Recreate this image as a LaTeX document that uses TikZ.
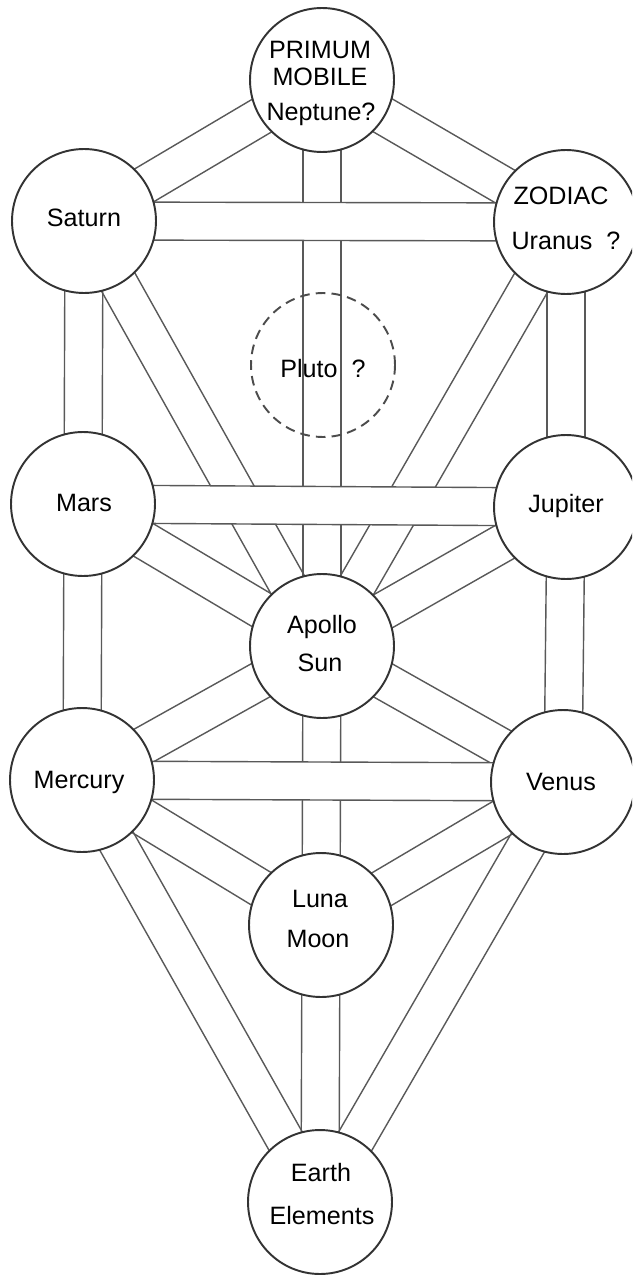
\documentclass[tikz,border=0pt]{standalone}
\usepackage{fontspec}
\setmainfont{Liberation Sans}
\usetikzlibrary{calc}
\pgfdeclarelayer{chanlayer}
\pgfdeclarelayer{barlayer}
\pgfsetlayers{chanlayer,barlayer,main}
\newcommand\hw{0.38cm}
\newcommand\chan[2]{%
  \draw[chanline] ($(#1.center)!\hw!90:(#2.center)$) -- ($(#2.center)!\hw!-90:(#1.center)$)
                  ($(#1.center)!\hw!-90:(#2.center)$) -- ($(#2.center)!\hw!90:(#1.center)$);}
\newcommand\barchan[2]{%
  \fill[white] ($(#1.center)!\hw!90:(#2.center)$) -- ($(#2.center)!\hw!-90:(#1.center)$)
     -- ($(#2.center)!\hw!90:(#1.center)$) -- ($(#1.center)!\hw!-90:(#2.center)$) -- cycle;
  \chan{#1}{#2}}
\tikzset{
  sph/.style={circle, draw=black!80, line width=1.1pt, fill=white, minimum size=2.88cm, inner sep=0pt},
  dsph/.style={circle, draw=black!70, line width=1.1pt, dash pattern=on 5.5pt off 3.5pt, minimum size=2.88cm, inner sep=0pt},
  chanline/.style={draw=black!65, line width=0.8pt},
  lbl/.style={anchor=base, inner sep=0pt, text=black, font=\fontsize{14.3}{17}\selectfont}
}
\begin{document}
\begin{tikzpicture}[x=0.02cm, y=-0.02cm]
\useasboundingbox (0,0) rectangle (632,1277);
\clip (0,0) rectangle (632,1277);
% spheres
\node[sph]  (pri) at (322,80)  {};
\node[sph]  (sat) at (84,221)  {};
\node[sph]  (zod) at (566,222) {};
\node[dsph] (plu) at (323,365) {};
\node[sph]  (mar) at (83,504)  {};
\node[sph]  (jup) at (566,507) {};
\node[sph]  (sun) at (322,646) {};
\node[sph]  (mer) at (82,780)  {};
\node[sph]  (ven) at (563,782) {};
\node[sph]  (lun) at (321,925) {};
\node[sph]  (ear) at (320,1202) {};
% labels
\node[lbl] (t1) at (320,59)  {PRIMUM};
\node[lbl] (t2) at (320,86)  {MOBILE};
\node[lbl] (t3) at (321,121) {Neptune?};
\node[lbl] (t4) at (84,227)  {Saturn};
\node[lbl] (t5) at (561,205) {ZODIAC};
\node[lbl] (t6) at (566,249) {Uranus\ \ ?};
\node[lbl] (t7) at (323,377) {Pluto\ \ ?};
\node[lbl] (t8) at (84,511)  {Mars};
\node[lbl] (t9) at (566,512) {Jupiter};
\node[lbl] (t10) at (322,633) {Apollo};
\node[lbl] (t11) at (320,671) {Sun};
\node[lbl] (t12) at (79,788) {Mercury};
\node[lbl] (t13) at (561,790) {Venus};
\node[lbl] (t14) at (320,907) {Luna};
\node[lbl] (t15) at (318,947) {Moon};
\node[lbl] (t16) at (321,1181) {Earth};
\node[lbl] (t17) at (322,1224) {Elements};
% paths
\begin{pgfonlayer}{chanlayer}
  \chan{pri}{sat}
  \chan{pri}{zod}
  \chan{pri}{sun}
  \chan{sat}{mar}
  \chan{sat}{sun}
  \chan{zod}{jup}
  \chan{zod}{sun}
  \chan{mar}{sun}
  \chan{jup}{sun}
  \chan{mar}{mer}
  \chan{jup}{ven}
  \chan{sun}{mer}
  \chan{sun}{ven}
  \chan{sun}{lun}
  \chan{mer}{lun}
  \chan{ven}{lun}
  \chan{mer}{ear}
  \chan{ven}{ear}
  \chan{lun}{ear}
\end{pgfonlayer}
\begin{pgfonlayer}{barlayer}
  \barchan{sat}{zod}
  \barchan{mar}{jup}
  \barchan{mer}{ven}
\end{pgfonlayer}
\end{tikzpicture}
\end{document}
